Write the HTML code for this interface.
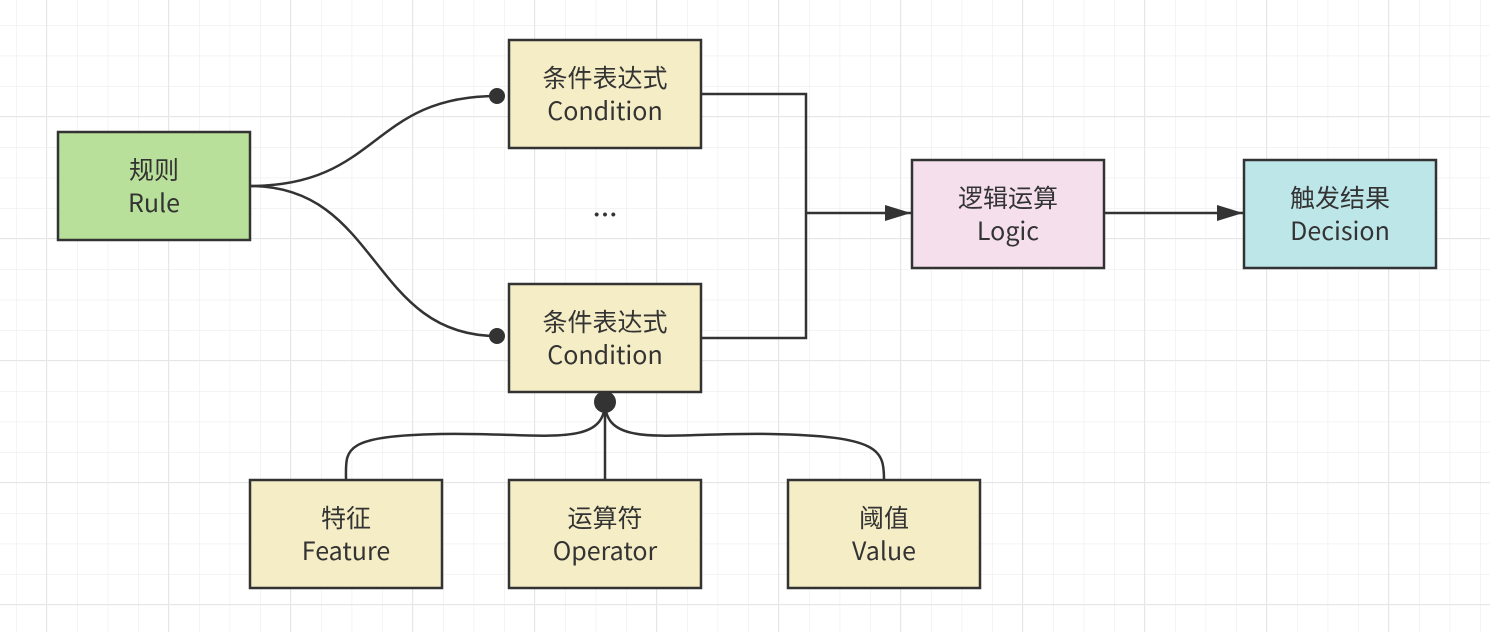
<!DOCTYPE html>
<html><head><meta charset="utf-8"><style>
html,body{margin:0;padding:0;background:#fff;}
text{font-family:"Noto Sans CJK SC","Liberation Sans",sans-serif;font-size:25px;fill:#333;}
</style></head><body>
<svg width="1490" height="632" xmlns="http://www.w3.org/2000/svg">
<defs>
<pattern id="g" x="16" y="-5.5" width="30.5" height="30.5" patternUnits="userSpaceOnUse">
<path d="M0 0V30.5M0 0H30.5" stroke="#f0f0f0" stroke-width="1.5" fill="none"/>
</pattern>
<pattern id="G" x="46" y="116" width="122" height="122" patternUnits="userSpaceOnUse">
<path d="M0 0V122M0 0H122" stroke="#e6e6e6" stroke-width="2" fill="none"/>
</pattern>
<marker id="a" markerWidth="26" markerHeight="16" refX="26" refY="8" orient="auto" markerUnits="userSpaceOnUse"><path d="M0 0L26 8L0 16L0 8z" fill="#333"/></marker>
</defs>
<rect width="1490" height="632" fill="url(#g)"/>
<rect width="1490" height="632" fill="url(#G)"/>
<g stroke="#333" stroke-width="2.5" fill="none">
<path d="M250 186C380 186 370 96 497 96"/>
<path d="M250 186C380 186 370 336 497 336"/>
<path d="M701 94H806V338H701"/>
<path d="M806 213H911" marker-end="url(#a)"/>
<path d="M1104 213H1243" marker-end="url(#a)"/>
<path d="M605 402V480"/>
<path d="M605 402C605 450 540 432 440 434C340 436 346 450 346 480"/>
<path d="M605 402C605 450 670 432 770 434C880 436 884 450 884 480"/>
</g>
<g fill="#333"><circle cx="497" cy="96" r="8"/><circle cx="497" cy="336" r="8"/><circle cx="605" cy="402" r="11" /></g>
<g stroke="#333" stroke-width="2.5">
<rect x="58" y="132" width="192" height="108" fill="#b9e09a"/>
<rect x="509" y="40" width="192" height="108" fill="#f5edc5"/>
<rect x="509" y="284" width="192" height="108" fill="#f5edc5"/>
<rect x="912" y="160" width="192" height="108" fill="#f5dfec"/>
<rect x="1244" y="160" width="192" height="108" fill="#bde6e9"/>
<rect x="250" y="480" width="192" height="108" fill="#f5edc5"/>
<rect x="509" y="480" width="192" height="108" fill="#f5edc5"/>
<rect x="788" y="480" width="192" height="108" fill="#f5edc5"/>
</g>
<g text-anchor="middle">
<text x="154" y="179">规则</text><text x="154" y="212">Rule</text>
<text x="605" y="87">条件表达式</text><text x="605" y="120">Condition</text>
<text x="605" y="224" style="font-weight:bold">…</text>
<text x="605" y="331">条件表达式</text><text x="605" y="364">Condition</text>
<text x="1008" y="207">逻辑运算</text><text x="1008" y="240">Logic</text>
<text x="1340" y="207">触发结果</text><text x="1340" y="240">Decision</text>
<text x="346" y="527">特征</text><text x="346" y="560">Feature</text>
<text x="605" y="527">运算符</text><text x="605" y="560">Operator</text>
<text x="884" y="527">阈值</text><text x="884" y="560">Value</text>
</g>
</svg>
</body></html>
